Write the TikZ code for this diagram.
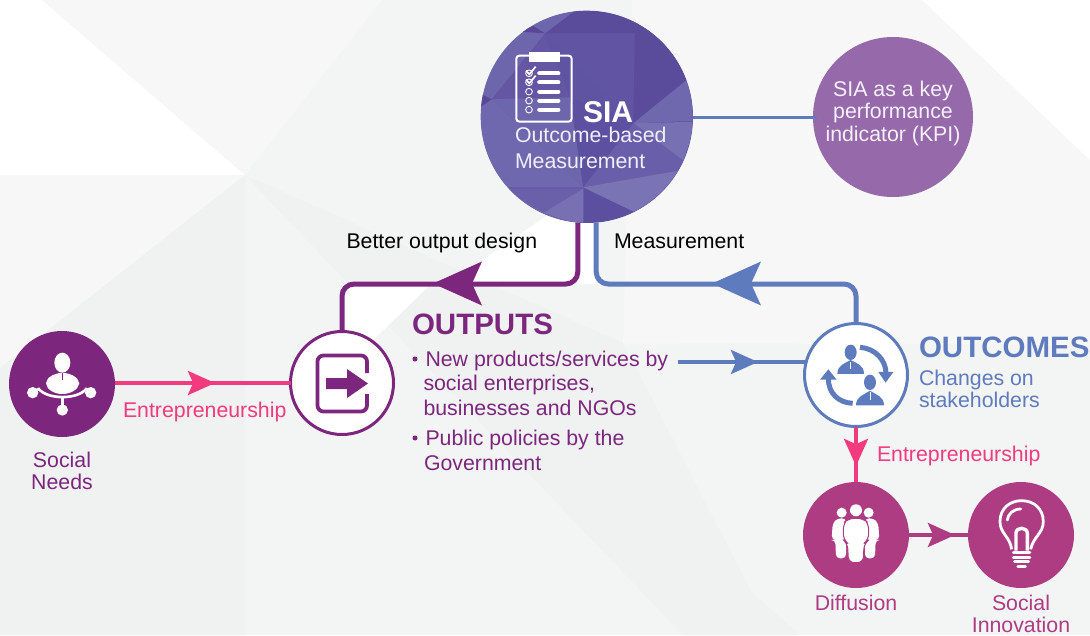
\documentclass[tikz,border=0pt]{standalone}
\usepackage{fontspec}
\setmainfont{Liberation Sans}
\definecolor{cpurple}{HTML}{7D267E}
\definecolor{cblue}{HTML}{5E7BBD}
\definecolor{cpink}{HTML}{F23B7F}
\definecolor{cmag}{HTML}{AE3C82}
\definecolor{ckpi}{HTML}{966AAA}
\newcommand{\fsz}[1]{\fontsize{#1}{#1}\selectfont}
\newcommand{\headat}[4]{\fill[#1,shift={(#2)},rotate=#3,scale=#4] (0,0)--(-49,-22)--(-39,0)--(-49,22)--cycle;}
\tikzset{
  tx/.style={inner sep=0pt,outer sep=0pt,anchor=base west},
  txc/.style={inner sep=0pt,outer sep=0pt,anchor=base},
  disc/.style={circle,inner sep=0pt,outer sep=0pt,minimum size=#1},
  body/.style={font=\fsz{21.3}},
  big/.style={font=\fsz{29.5}\bfseries},
  thickln/.style={line width=5pt,rounded corners=12pt},
  thinln/.style={line width=3.2pt},
}
\begin{document}
\begin{tikzpicture}[x=1pt,y=-1pt]
\useasboundingbox (0,0) rectangle (1090,635);
% background facets
\fill[color={rgb,255:red,243;green,244;blue,244}] (0,0) rectangle (1090,635);
\fill[white] (0,0)--(42,0)--(245,175)--(0,175)--cycle;
\fill[color={rgb,255:red,247;green,247;blue,247}] (42,0)--(382,0)--(245,175)--cycle;
\fill[color={rgb,255:red,247;green,247;blue,247}] (0,175)--(245,175)--(0,368)--cycle;
\fill[color={rgb,255:red,240;green,241;blue,241}] (245,175)--(245,635)--(0,635)--(0,368)--cycle;
\fill[color={rgb,255:red,247;green,247;blue,247}] (632,0)--(1090,0)--(1090,345)--(623,343)--cycle;
\fill[white] (922,0)--(1090,0)--(1090,160)--cycle;
\fill[color={rgb,255:red,240;green,241;blue,241}] (245,175)--(623,343)--(752,593)--(800,635)--(683,635)--cycle;
\fill[white] (342,284)--(431,284)--(368,345)--(342,345)--cycle;
\fill[white] (452,284)--(480,262)--(565,203)--(596,203)--(596,284)--cycle;
% nodes
\node[disc=212pt,fill={rgb,255:red,95;green,84;blue,161}] (sia) at (587,117) {};
\begin{scope}[shift={(470,0)},scale=0.3333]
\clip (350,350) circle (318);
\fill[color={rgb,255:red,90;green,75;blue,155}] (225,100)--(330,20)--(490,20)--(495,100)--cycle;
\fill[color={rgb,255:red,96;green,84;blue,163}] (225,100)--(495,100)--(490,370)--cycle;
\fill[color={rgb,255:red,90;green,75;blue,155}] (495,100)--(490,20)--(680,100)--(650,240)--(490,370)--cycle;
\fill[color={rgb,255:red,110;green,102;blue,172}] (330,20)--(225,100)--(65,298)--(20,298)--(20,20)--cycle;
\fill[color={rgb,255:red,88;green,72;blue,150}] (150,95)--(190,78)--(225,100)--cycle;
\fill[color={rgb,255:red,100;green,86;blue,163}] (65,298)--(225,105)--(300,292)--cycle;
\fill[color={rgb,255:red,112;green,104;blue,174}] (65,298)--(340,562)--(20,562)--(20,298)--cycle;
\fill[color={rgb,255:red,88;green,72;blue,150}] (30,280)--(65,298)--(30,322)--cycle;
\fill[color={rgb,255:red,110;green,102;blue,172}] (65,298)--(300,292)--(340,562)--cycle;
\fill[color={rgb,255:red,93;green,80;blue,160}] (340,562)--(300,292)--(490,370)--cycle;
\fill[color={rgb,255:red,112;green,104;blue,174}] (490,370)--(680,362)--(680,220)--(650,240)--cycle;
\fill[color={rgb,255:red,119;green,112;blue,178}] (490,370)--(680,365)--(640,482)--cycle;
\fill[color={rgb,255:red,105;green,94;blue,170}] (490,370)--(640,482)--(650,510)--(340,562)--cycle;
\fill[color={rgb,255:red,122;green,115;blue,180}] (340,562)--(650,508)--(680,600)--(490,635)--cycle;
\fill[color={rgb,255:red,92;green,79;blue,160}] (340,565)--(490,635)--(440,680)--(340,680)--cycle;
\fill[color={rgb,255:red,120;green,112;blue,178}] (340,565)--(220,638)--(340,680)--cycle;
\fill[color={rgb,255:red,106;green,96;blue,169}] (340,565)--(100,565)--(220,638)--cycle;
\fill[color={rgb,255:red,112;green,104;blue,174}] (100,565)--(220,638)--(340,680)--(60,680)--(60,565)--cycle;
\end{scope}
\node[disc=160pt,fill=ckpi] (kpi) at (893,117) {};
\node[disc=106pt,fill=cpurple] (needs) at (62,384) {};
\node[disc=103pt,fill=white,draw=cpurple,line width=3pt] (out) at (342,383) {};
\node[disc=103pt,fill=white,draw=cblue,line width=3pt] (oc) at (856,375) {};
\node[disc=106pt,fill=cmag] (diff) at (856,535) {};
\node[disc=106pt,fill=cmag] (innov) at (1021,535) {};
\coordinate (pl) at (342,284);
\coordinate (bl) at (856,284);
\coordinate (thin) at (678,362);
% connectors
\draw[cblue,line width=3pt,shorten >=-4pt] (sia.east) -- (kpi.west);
\draw[cpurple,thickln] (sia.265) |- (pl) -- (out.north);
\draw[cblue,thickln] (sia.275) |- (bl) -- (oc.north);
\headat{cpurple}{433,283.5}{180}{1}
\headat{cblue}{712,283.5}{180}{1}
\draw[cpink,thinln] (needs.east |- out.west) -- (out.west);
\headat{cpink}{215,383}{0}{0.56}
\draw[cblue,thinln] (thin) -- (thin -| oc.west);
\headat{cblue}{758,362}{0}{0.56}
\draw[cpink,thinln] (oc.south) -- (diff.north);
\headat{cpink}{856,466}{-90}{0.56}
\draw[cmag,thinln] (diff.east) -- (innov.west);
\headat{cmag}{955,535}{0}{0.56}
% clipboard icon
\begin{scope}[shift={(470,0)},scale=0.3333]
\draw[white,line width=2pt,rounded corners=3pt] (139,167) rectangle (305,365);
\fill[white] (177,155) rectangle (271,186);
\foreach \yy in {220,247,275,302,329}{
  \draw[white,line width=4.2pt,line cap=round] (208,\yy) -- (265,\yy);
  \draw[white,line width=0.9pt] (177,\yy) circle (10);
}
\foreach \yy in {220,247}{
  \draw[white,line width=1.7pt] (168,\yy-8) -- (178,\yy+3) -- (197,\yy-20);
}
\end{scope}
% social needs icon
\begin{scope}[shift={(0,320)},scale=0.3333]
\fill[white] (187,128) ellipse (24 and 30);
\fill[white] (138,190) .. controls (140,170) and (165,160) .. (187,158) .. controls (210,160) and (235,170) .. (238,190) .. controls (235,210) and (210,222) .. (187,222) .. controls (165,222) and (140,210) .. (138,190) -- cycle;
\draw[cpurple,line width=0.8pt] (187,160) -- (187,180);
\draw[white,line width=2.6pt] (115,205) .. controls (140,240) and (235,240) .. (260,205);
\draw[white,line width=2.6pt] (187,232) -- (187,262);
\draw[white,line width=2.6pt] (98,218) -- (118,206);
\draw[white,line width=2.6pt] (272,218) -- (257,206);
\fill[white] (98,218) circle (17);
\fill[white] (272,218) circle (17);
\fill[white] (187,270) circle (17);
\end{scope}
% outputs icon
\draw[cpurple,line width=3.8pt,rounded corners=6pt] (367,373) -- (367,355.5) -- (317.5,355.5) -- (317.5,411.5) -- (367,411.5) -- (367,394);
\fill[cpurple] (326,378) -- (347,378) -- (347,369) -- (368,383.5) -- (347,398) -- (347,389) -- (326,389) -- cycle;
% outcomes icon
\begin{scope}[shift={(780,310)},scale=0.3333]
\fill[cblue] (212,127) ellipse (18 and 23);
\fill[cblue] (172,192) .. controls (172,165) and (195,160) .. (212,150) .. controls (230,160) and (252,165) .. (252,192) -- cycle;
\fill[cblue] (270,217) ellipse (18 and 23);
\fill[cblue] (228,286) .. controls (228,260) and (250,255) .. (270,242) .. controls (290,255) and (312,260) .. (312,286) -- cycle;
\draw[white,line width=0.6pt] (212,155) -- (212,178);
\draw[white,line width=0.6pt] (270,247) -- (270,270);
\draw[cblue,line width=5pt] (240,112) .. controls (285,115) and (318,150) .. (318,190);
\fill[cblue] (295,186) -- (340,186) -- (317,218) -- cycle;
\draw[cblue,line width=5pt] (218,280) .. controls (175,278) and (145,250) .. (145,205);
\fill[cblue] (120,209) -- (170,209) -- (145,178) -- cycle;
\end{scope}
% diffusion icon
\begin{scope}[shift={(780,310)},scale=0.3333]
\fill[white] (185,608) circle (15);
\fill[white] (266,608) circle (15);
\fill[white,rounded corners=4pt] (155,690) -- (158,640) -- (172,625) -- (198,625) -- (198,745) -- (168,745) -- (166,690) -- cycle;
\fill[white,rounded corners=4pt] (298,690) -- (295,640) -- (281,625) -- (255,625) -- (255,745) -- (285,745) -- (287,690) -- cycle;
\fill[white] (228,601) circle (18);
\filldraw[fill=white,draw=cmag,line width=1pt,rounded corners=6pt] (190,690) -- (190,640) -- (205,625) -- (250,625) -- (266,640) -- (266,690) -- (252,700) -- (250,758) -- (205,758) -- (203,700) -- cycle;
\end{scope}
% bulb icon
\begin{scope}[shift={(780,310)},scale=0.3333]
\draw[white,line width=2.8pt] (695,718) .. controls (690,680) and (660,670) .. (660,635) .. controls (660,595) and (690,572) .. (725,572) .. controls (760,572) and (790,595) .. (790,635) .. controls (790,670) and (760,680) .. (752,718);
\draw[white,line width=3.4pt] (708,722) -- (708,670) .. controls (708,650) and (742,650) .. (742,670) -- (742,722);
\draw[white,line width=2.8pt,line cap=round] (682,630) .. controls (685,610) and (700,598) .. (722,597);
\draw[white,line width=3pt,line cap=round] (700,728) -- (750,728);
\draw[white,line width=3pt,line cap=round] (700,742) -- (750,742);
\draw[white,line width=3pt,line cap=round] (704,756) -- (746,756);
\draw[white,line width=3pt,line cap=round] (714,770) -- (736,770);
\end{scope}
% texts
\node[tx,white,font=\fsz{30}\bfseries] (tsia) at (583,122.5) {SIA};
\node[tx,color={rgb,255:red,240;green,238;blue,248},body] (tob) at (515,142.5) {Outcome-based};
\node[tx,color={rgb,255:red,240;green,238;blue,248},body] (tme) at (515,168) {Measurement};
\node[txc,color={rgb,255:red,245;green,240;blue,248},body] (k1) at (893,96) {SIA as a key};
\node[txc,color={rgb,255:red,245;green,240;blue,248},body] (k2) at (893,118.5) {performance};
\node[txc,color={rgb,255:red,245;green,240;blue,248},body] (k3) at (893,141) {indicator (KPI)};
\node[tx,black,font=\fsz{21.3}] (tb) at (346.5,248.5) {Better output design};
\node[tx,black,font=\fsz{21.3}] (tm) at (614,248.5) {Measurement};
\node[tx,cpink,body] (te1) at (123,417) {Entrepreneurship};
\node[txc,cpurple,body] (sn1) at (62,467) {Social};
\node[txc,cpurple,body] (sn2) at (62,489) {Needs};
\node[tx,cpurple,big] (to) at (412,334) {OUTPUTS};
\node[disc=5pt,fill=cpurple] (b1) at (415,359) {};
\node[tx,cpurple,body] (o1) at (425.5,366) {New products/services by};
\node[tx,cpurple,body] (o2) at (423.5,390) {social enterprises,};
\node[tx,cpurple,body] (o3) at (423.5,415) {businesses and NGOs};
\node[disc=5pt,fill=cpurple] (b2) at (415,438) {};
\node[tx,cpurple,body] (o4) at (425.5,445) {Public policies by the};
\node[tx,cpurple,body] (o5) at (424,470) {Government};
\node[tx,cblue,big] (tc) at (919,357) {OUTCOMES};
\node[tx,cblue,body] (c1) at (919,385) {Changes on};
\node[tx,cblue,body] (c2) at (919,407) {stakeholders};
\node[tx,cpink,body] (te2) at (877,461) {Entrepreneurship};
\node[txc,cmag,body] (d1) at (856,610) {Diffusion};
\node[txc,cmag,body] (s1) at (1021,610) {Social};
\node[txc,cmag,body] (s2) at (1021,632) {Innovation};
\end{tikzpicture}
\end{document}
